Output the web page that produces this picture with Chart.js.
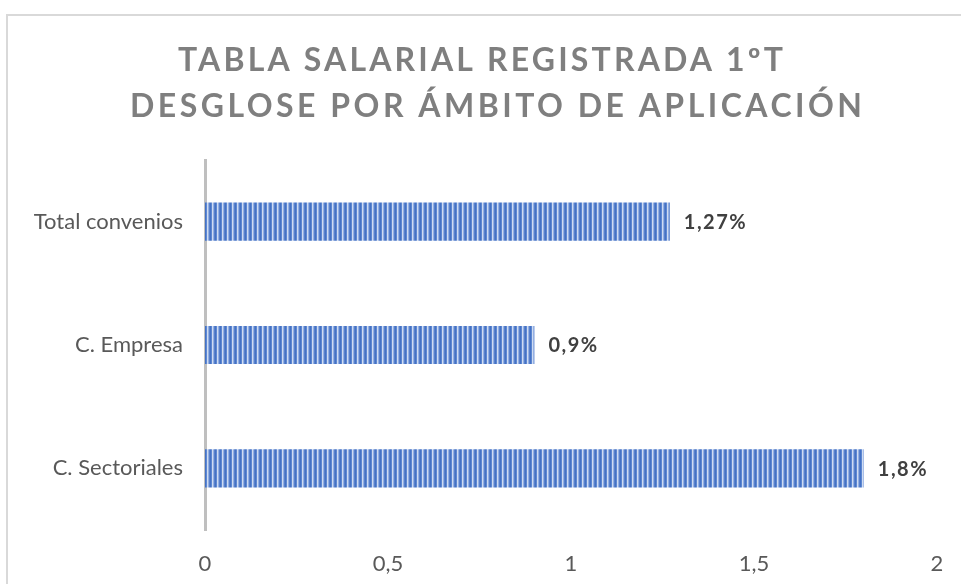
<!DOCTYPE html>
<html>
<head>
<meta charset="utf-8">
<script src="https://cdn.jsdelivr.net/npm/chart.js@4.4.1/dist/chart.umd.min.js"></script>
<style>
  html, body { margin: 0; padding: 0; background: #fff; overflow: hidden; }
  #wrap { position: relative; width: 961px; height: 584px; }
  #frame { position: absolute; left: 6px; top: 14px; width: 1000px; height: 700px; border: 2px solid #d9d9d9; box-sizing: border-box; }
  canvas { position: absolute; left: 0; top: 0; }
</style>
</head>
<body>
<div id="wrap">
  <div id="frame"></div>
  <canvas id="cv" width="961" height="584"></canvas>
</div>
<script>
const titleLines = ['TABLA SALARIAL REGISTRADA 1ºT', 'DESGLOSE POR ÁMBITO DE APLICACIÓN'];
const categories = ['Total convenios', 'C. Empresa', 'C. Sectoriales'];
const values = [1.27, 0.9, 1.8];
const valueLabels = ['1,27%', '0,9%', '1,8%'];
const xTicks = [0, 0.5, 1, 1.5, 2];

const FONT = 'Lato, Calibri, Carlito, sans-serif';

// striped fill like the original
function stripes(ctx) {
  const p = document.createElement('canvas');
  p.width = 5; p.height = 4;
  const c = p.getContext('2d');
  const cols = ['#4472c4', '#5f88d2', '#cfdcf2', '#94afe2', '#5a82cc'];
  cols.forEach((col, i) => { c.fillStyle = col; c.fillRect(i, 0, 1, 4); });
  return ctx.createPattern(p, 'repeat');
}

const titlePlugin = {
  id: 'spacedTitle',
  afterDraw(chart) {
    const ctx = chart.ctx;
    ctx.save();
    ctx.fillStyle = '#7f7f7f';
    ctx.font = 'bold 32px ' + FONT;
    ctx.textBaseline = 'alphabetic';
    ctx.textAlign = 'left';
    const targets = [[178, 783, 71], [130, 862, 117]];
    titleLines.forEach((t, i) => {
      const [x0, x1, y] = targets[i];
      ctx.letterSpacing = '0px';
      const w = ctx.measureText(t).width;
      const sp = (x1 - x0 - w) / (t.length - 1);
      ctx.letterSpacing = sp + 'px';
      ctx.fillText(t, x0, y);
    });
    ctx.restore();
  }
};

const labelPlugin = {
  id: 'valueLabels',
  afterDatasetsDraw(chart) {
    const ctx = chart.ctx;
    const meta = chart.getDatasetMeta(0);
    ctx.save();
    ctx.fillStyle = '#404040';
    ctx.font = 'bold 20px ' + FONT;
    ctx.letterSpacing = '1.5px';
    ctx.textBaseline = 'middle';
    ctx.textAlign = 'left';
    meta.data.forEach((bar, i) => {
      ctx.fillText(valueLabels[i], bar.x + 14, bar.y + 1);
    });
    ctx.restore();
  }
};

const cv = document.getElementById('cv');
const chart = new Chart(cv, {
  type: 'bar',
  data: {
    labels: categories,
    datasets: [{
      data: values,
      backgroundColor: stripes(cv.getContext('2d')),
      borderWidth: 0,
      barPercentage: 0.62,
      categoryPercentage: 0.5
    }]
  },
  options: {
    indexAxis: 'y',
    responsive: false,
    animation: false,
    devicePixelRatio: 1,
    layout: { padding: { top: 160, right: 24, left: 0, bottom: 0 } },
    plugins: {
      legend: { display: false },
      tooltip: { enabled: false },
      title: { display: false }
    },
    scales: {
      x: {
        min: 0,
        max: 2,
        afterBuildTicks(scale) { scale.ticks = xTicks.map(v => ({ value: v })); },
        grid: { display: false, drawTicks: false },
        border: { display: false },
        ticks: {
          padding: 21,
          color: '#595959',
          font: { family: FONT, size: 22 },
          callback: v => String(v).replace('.', ',')
        },
        afterFit(scale) {
          scale.height = 54;
          scale.paddingLeft = 0;
          scale.paddingRight = 0;
        }
      },
      y: {
        grid: { display: false, drawTicks: false },
        border: { display: true, color: '#bfbfbf', width: 3 },
        ticks: {
          padding: 22,
          color: '#595959',
          font: { family: FONT, size: 22 }
        },
        afterFit(scale) {
          scale.width = 205;
          scale.paddingTop = 0;
          scale.paddingBottom = 0;
        }
      }
    }
  },
  plugins: [titlePlugin, labelPlugin]
});
</script>
</body>
</html>
